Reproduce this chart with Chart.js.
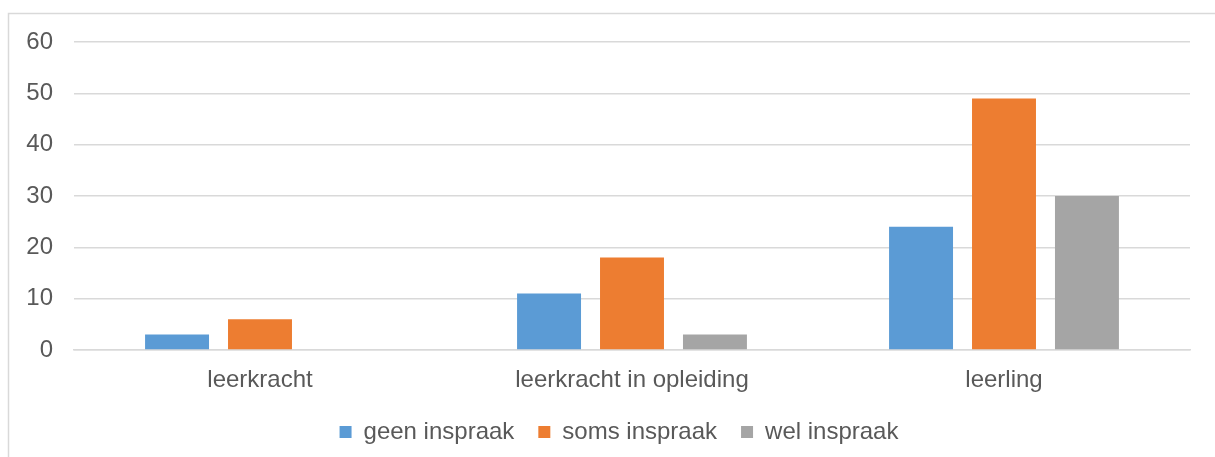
<!DOCTYPE html>
<html>
<head>
<meta charset="utf-8">
<script src="https://cdn.jsdelivr.net/npm/chart.js@4/dist/chart.umd.min.js"></script>
<style>
  html, body { margin: 0; padding: 0; background: #fff; }
  #wrap { position: relative; width: 1215px; height: 457px; }
</style>
</head>
<body>
<div id="wrap"><canvas id="chart" width="1215" height="457"></canvas></div>
<script>
const categories = ['leerkracht', 'leerkracht in opleiding', 'leerling'];
const geenInspraak = [3, 11, 24];
const somsInspraak = [6, 18, 49];
const welInspraak = [0, 3, 30];
const yTicks = [0, 10, 20, 30, 40, 50, 60];

const textColor = '#595959';
const gridColor = '#D9D9D9';
const font = { family: '"Liberation Sans", Arial, sans-serif', size: 24 };

/* ---- outer frame like the office chart area ---- */
const framePlugin = {
    id: 'frame',
    afterLayout(chart) {
        // legend is centred in the frame, not in the padded area
        chart.legend.left = 48;
    },
    beforeDraw(chart) {
        const ctx = chart.ctx;
        ctx.save();
        ctx.fillStyle = '#fff';
        ctx.fillRect(0, 0, chart.width, chart.height);
        ctx.strokeStyle = gridColor;
        ctx.lineWidth = 1.5;
        ctx.beginPath();
        ctx.moveTo(8.5, chart.height);
        ctx.lineTo(8.5, 13.5);
        ctx.lineTo(chart.width, 13.5);
        ctx.stroke();
        ctx.restore();
    }
};

new Chart(document.getElementById('chart'), {
    type: 'bar',
    data: {
        labels: categories,
        datasets: [
            { label: 'geen inspraak', data: geenInspraak, backgroundColor: '#5B9BD5' },
            { label: 'soms inspraak', data: somsInspraak, backgroundColor: '#ED7D31' },
            { label: 'wel inspraak', data: welInspraak, backgroundColor: '#A5A5A5' }
        ]
    },
    options: {
        responsive: false,
        animation: false,
        events: [],
        categoryPercentage: 0.669,
        barPercentage: 0.771,
        layout: { padding: { top: 42, right: 25, bottom: 3, left: 0 } },
        plugins: {
            tooltip: { enabled: false },
            legend: {
                position: 'bottom',
                labels: {
                    boxWidth: 12,
                    boxHeight: 12,
                    padding: 24,
                    color: textColor,
                    font: font
                }
            }
        },
        scales: {
            x: {
                grid: { display: false, drawTicks: false },
                border: { display: true, color: gridColor, width: 1.5 },
                ticks: { color: textColor, font: font, padding: 16 },
                afterFit(scale) { scale.height = 46; }
            },
            y: {
                min: 0,
                max: 60,
                afterBuildTicks(scale) { scale.ticks = yTicks.map(v => ({ value: v })); },
                grid: { color: gridColor, lineWidth: 1.5, drawTicks: false },
                border: { display: false },
                ticks: { color: textColor, font: font, padding: 21 },
                afterFit(scale) { scale.width = 74; }
            }
        }
    },
    plugins: [framePlugin]
});
</script>
</body>
</html>
